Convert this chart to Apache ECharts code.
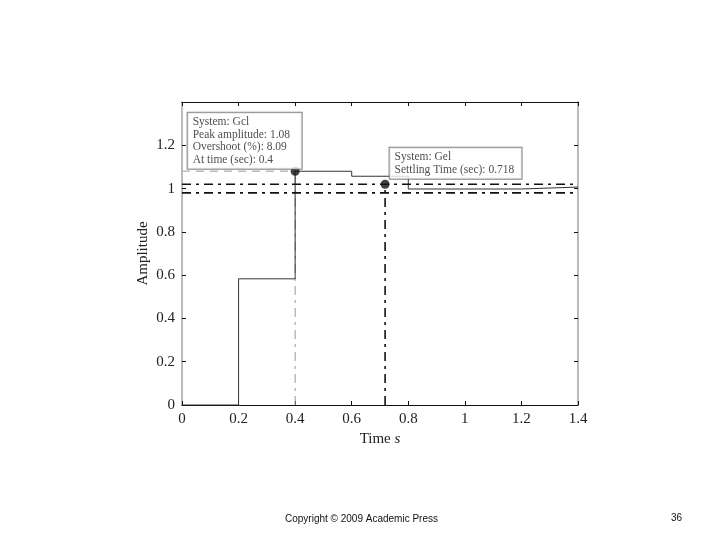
<!DOCTYPE html>
<html><head><meta charset="utf-8">
<script src="https://cdn.jsdelivr.net/npm/echarts@6/dist/echarts.min.js"></script>
<style>html,body{margin:0;padding:0;background:#fff}#c{width:720px;height:540px}</style>
</head><body><div id="c"></div>
<script>
// Step response samples (time s, amplitude)
var times = [0, 0.2, 0.4, 0.6, 0.8, 1.0, 1.2, 1.4];
var amps = [0, 0.583, 1.08, 1.057, 0.998, 0.998, 1.007, 1.007];
var peakTime = 0.4, peakAmp = 1.08, overshoot = 8.09;
var settleTime = 0.718, settleHi = 1.02, settleLo = 0.98;
var xTicks = [0, 0.2, 0.4, 0.6, 0.8, 1, 1.2, 1.4];
var yTicks = [0, 0.2, 0.4, 0.6, 0.8, 1, 1.2];

var serif = 'Liberation Serif';
var chart = echarts.init(document.getElementById('c'));
var stepData = times.map(function(t, i){ return [t, amps[i]]; });
var dashDot = [9, 5, 3, 5];

chart.setOption({
  animation: false,
  backgroundColor: '#fff',
  grid: {left: 182, right: 142, top: 102, bottom: 135},
  xAxis: [{
    type: 'value', min: 0, max: 1.4, interval: 0.2, position: 'bottom',
    name: 'Time {i|s}', nameLocation: 'middle', nameGap: 26,
    nameTextStyle: {fontFamily: serif, fontSize: 15, color: '#222',
      rich: {i: {fontFamily: serif, fontSize: 15, fontStyle: 'italic', color: '#222'}}},
    axisLine: {show: true, onZero: false, lineStyle: {color: '#111', width: 1}},
    axisTick: {show: true, inside: true, length: 4, lineStyle: {color: '#111'}},
    axisLabel: {fontFamily: serif, fontSize: 15, color: '#222', margin: 7},
    splitLine: {show: false}
  }, {
    type: 'value', min: 0, max: 1.4, interval: 0.2, position: 'top',
    axisLine: {show: true, onZero: false, lineStyle: {color: '#111', width: 1}},
    axisTick: {show: true, inside: true, length: 4, lineStyle: {color: '#111'}},
    axisLabel: {show: false}, splitLine: {show: false}
  }],
  yAxis: [{
    type: 'value', min: 0, max: 1.4, interval: 0.2, position: 'left',
    name: 'Amplitude', nameLocation: 'middle', nameGap: 31, nameRotate: 90,
    nameMoveOverlap: false,
    nameTextStyle: {fontFamily: serif, fontSize: 15, color: '#222'},
    axisLine: {show: true, onZero: false, lineStyle: {color: '#bbb', width: 2}},
    axisTick: {show: true, inside: true, length: 4, lineStyle: {color: '#111'}},
    axisLabel: {fontFamily: serif, fontSize: 15, color: '#222', margin: 7,
      formatter: function(v){ return yTicks.indexOf(Math.round(v*10)/10) >= 0 ? String(Math.round(v*10)/10) : ''; }},
    splitLine: {show: false}
  }, {
    type: 'value', min: 0, max: 1.4, interval: 0.2, position: 'right',
    axisLine: {show: true, onZero: false, lineStyle: {color: '#bbb', width: 2}},
    axisTick: {show: true, inside: true, length: 4, lineStyle: {color: '#111'}},
    axisLabel: {show: false}, splitLine: {show: false}
  }],
  series: [
    {type: 'line', data: [[0, peakAmp], [peakTime, peakAmp]], symbol: 'none',
     lineStyle: {color: '#bbb', width: 1.5, type: [8, 6]}, z: 1},
    {type: 'line', data: [[peakTime, 0], [peakTime, peakAmp]], symbol: 'none',
     lineStyle: {color: '#999', width: 1, type: dashDot}, z: 1},
    {type: 'line', data: stepData, step: 'end', symbol: 'none',
     lineStyle: {color: '#333', width: 1}, z: 2},
    {type: 'line', data: [[0, settleHi], [1.4, settleHi]], symbol: 'none',
     lineStyle: {color: '#111', width: 1.6, type: dashDot}, z: 3},
    {type: 'line', data: [[0, settleLo], [1.4, settleLo]], symbol: 'none',
     lineStyle: {color: '#111', width: 1.6, type: dashDot}, z: 3},
    {type: 'line', data: [[settleTime, 0], [settleTime, settleHi]], symbol: 'none',
     lineStyle: {color: '#111', width: 1.6, type: dashDot}, z: 3},
    {type: 'scatter', symbolSize: 9, itemStyle: {color: '#111'}, z: 5,
     data: [
       {value: [peakTime, peakAmp], label: {show: true, position: [-103, -54],
         formatter: 'System: Gcl\nPeak amplitude: ' + peakAmp + '\nOvershoot (%): ' + overshoot + '\nAt time (sec): ' + peakTime,
         fontFamily: serif, fontSize: 11.5, lineHeight: 12.5, color: '#222', align: 'left', verticalAlign: 'top',
         backgroundColor: '#fff', borderColor: '#666', borderWidth: 1, padding: [3, 5, 3, 5], width: 104}},
       {value: [settleTime, settleHi], label: {show: true, position: [9, -32],
         formatter: 'System: Gel\nSettling Time (sec): ' + settleTime,
         fontFamily: serif, fontSize: 11.5, lineHeight: 12.5, color: '#222', align: 'left', verticalAlign: 'top',
         backgroundColor: '#fff', borderColor: '#666', borderWidth: 1, padding: [3, 6, 3, 5], width: 121}}
     ]}
  ],
  graphic: [
    {type: 'text', left: 285, top: 514, style: {text: 'Copyright © 2009 Academic Press', font: '10px "Liberation Sans", Arial', fill: '#111'}},
    {type: 'text', left: 671, top: 513, style: {text: '36', font: '10px "Liberation Sans", Arial', fill: '#111'}}
  ]
});
</script></body></html>
